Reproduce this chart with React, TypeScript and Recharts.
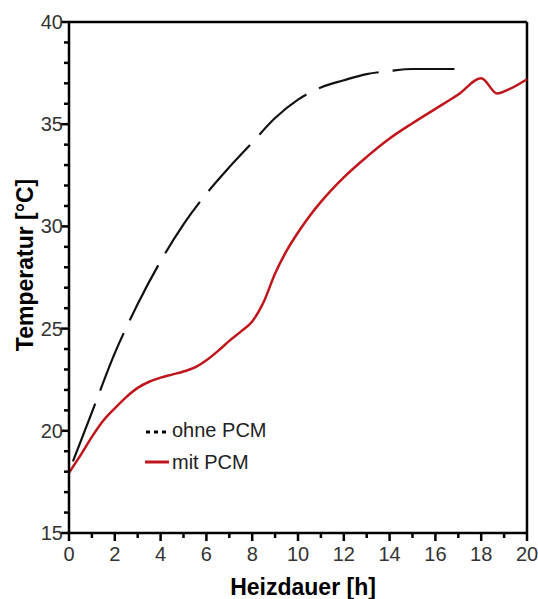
import { LineChart, Line, XAxis, YAxis, ReferenceLine, Legend } from 'recharts'

// ohne PCM (dashed black)
const ohneHours = [0.17, 1, 2, 3, 4, 5, 6, 7, 8, 9, 10, 11, 12, 13, 14, 15, 16, 17.2]
const ohneTemp = [18.5, 20.9, 23.8, 26.2, 28.3, 30.1, 31.6, 32.9, 34.1, 35.3, 36.2, 36.8, 37.15, 37.45, 37.6, 37.7, 37.7, 37.7]

// mit PCM (red)
const mitHours = [0, 0.5, 1, 1.5, 2, 2.5, 3, 3.5, 4, 4.5, 5, 5.5, 6, 6.5, 7, 7.5, 8, 8.5, 9, 9.5, 10, 10.5, 11, 12, 13, 14, 15, 16, 17, 18, 18.7, 19.2, 20]
const mitTemp = [17.95, 18.8, 19.7, 20.5, 21.1, 21.65, 22.1, 22.4, 22.6, 22.75, 22.9, 23.1, 23.45, 23.9, 24.4, 24.85, 25.35, 26.3, 27.7, 28.8, 29.7, 30.5, 31.2, 32.4, 33.4, 34.3, 35.05, 35.75, 36.45, 37.25, 36.5, 36.7, 37.2]

const xTicks = Array.from({ length: 21 }, (_, i) => i)
const yTicks = Array.from({ length: 26 }, (_, i) => 15 + i)

const ohneData = ohneHours.map((h, i) => ({ h, t: ohneTemp[i] }))
const mitData = mitHours.map((h, i) => ({ h, t: mitTemp[i] }))

const FONT = '"Liberation Sans", Arial, sans-serif'
const RED = '#c0151b'

const renderXTick = (props: any) => {
  const { x, y, payload } = props
  const major = payload.value % 2 === 0
  const len = major ? 8 : 5
  return (
    <g key={`xt-${payload.value}`}>
      <rect x={x - 1.25} y={y} width={2.5} height={len} fill="#000" />
      {major && (
        <text x={x} y={y + 28} textAnchor="middle" fontSize={20} fill="#333" fontFamily={FONT}>
          {payload.value}
        </text>
      )}
    </g>
  )
}

const renderYTick = (props: any) => {
  const { x, y, payload } = props
  const major = payload.value % 5 === 0
  const len = major ? 8 : 5
  return (
    <g key={`yt-${payload.value}`}>
      <rect x={x - len} y={y - 1.25} width={len} height={2.5} fill="#000" />
      {major && (
        <text x={x - 6} y={y + 7} textAnchor="end" fontSize={20} fill="#333" fontFamily={FONT}>
          {payload.value}
        </text>
      )}
    </g>
  )
}

const LegendBox = () => (
  <svg width={150} height={70} style={{ display: 'block' }}>
    <line x1={6} x2={29} y1={22} y2={22} stroke="#000" strokeWidth={3} strokeDasharray="4 4" />
    <text x={32} y={27} fontSize={20} fill="#222" fontFamily={FONT}>ohne PCM</text>
    <line x1={5} x2={29} y1={52} y2={52} stroke={RED} strokeWidth={3} />
    <text x={32} y={59} fontSize={20} fill="#222" fontFamily={FONT}>mit PCM</text>
  </svg>
)

export default function App() {
  return (
    <div style={{ position: 'absolute', left: 0, top: 0, width: 538, height: 599, background: '#fff' }}>
      <LineChart width={538} height={599} margin={{ top: 22, right: 11, left: 0, bottom: 0 }}>
        <XAxis
          type="number"
          dataKey="h"
          domain={[0, 20]}
          ticks={xTicks}
          interval={0}
          height={66}
          tickSize={0}
          tickMargin={0}
          tickLine={false}
          tick={renderXTick}
          axisLine={{ stroke: '#000', strokeWidth: 2.5 }}
          allowDuplicatedCategory={false}
        />
        <YAxis
          type="number"
          domain={[15, 40]}
          ticks={yTicks}
          interval={0}
          width={69}
          tickSize={0}
          tickMargin={0}
          tickLine={false}
          tick={renderYTick}
          axisLine={{ stroke: '#000', strokeWidth: 2.5 }}
        />
        <ReferenceLine y={40} stroke="#000" strokeWidth={2.5} />
        <ReferenceLine x={20} stroke="#000" strokeWidth={2.5} />
        <Line
          data={ohneData}
          dataKey="t"
          type="monotone"
          stroke="#111"
          strokeWidth={2.2}
          strokeDasharray="62 14"
          dot={false}
          isAnimationActive={false}
        />
        <Line
          data={mitData}
          dataKey="t"
          type="monotone"
          stroke={RED}
          strokeWidth={2.5}
          dot={false}
          isAnimationActive={false}
        />
        <Legend
          layout="vertical"
          align="center"
          verticalAlign="middle"
          content={<LegendBox />}
          wrapperStyle={{ left: 140, top: 410, width: 150 }}
        />
      </LineChart>
      <svg width={538} height={599} style={{ position: 'absolute', left: 0, top: 0, pointerEvents: 'none' }}>
        <text x={303} y={595} textAnchor="middle" fontSize={23} fontWeight="bold" fill="#000" fontFamily={FONT}>
          Heizdauer [h]
        </text>
        <text
          x={33}
          y={265}
          transform="rotate(-90, 33, 265)"
          textAnchor="middle"
          fontSize={23}
          fontWeight="bold"
          fill="#000"
          fontFamily={FONT}
        >
          Temperatur [°C]
        </text>
      </svg>
    </div>
  )
}
